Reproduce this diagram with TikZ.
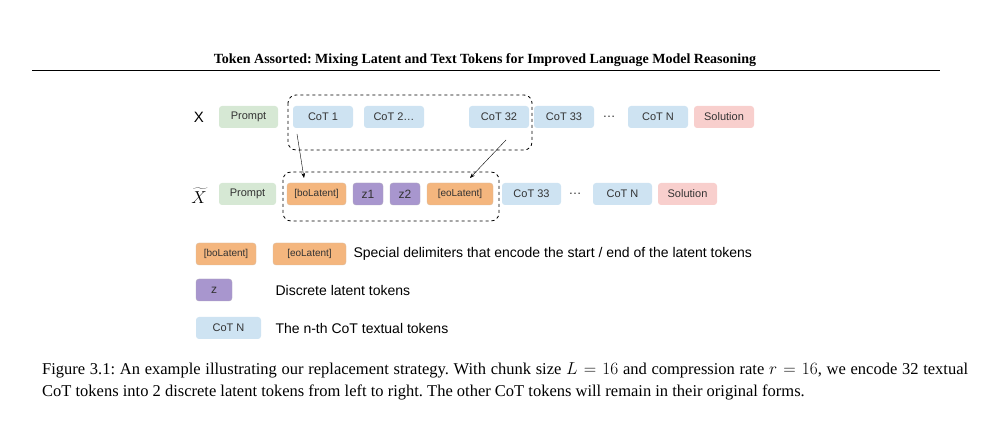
\documentclass[tikz,border=0pt]{standalone}
\usepackage{fontspec}
\setmainfont{Liberation Serif}
\setsansfont{Liberation Sans}
\usetikzlibrary{arrows.meta,positioning}
\definecolor{prgreen}{RGB}{214,232,212}
\definecolor{cotblue}{RGB}{206,227,242}
\definecolor{solred}{RGB}{248,207,205}
\definecolor{latorange}{RGB}{244,182,126}
\definecolor{zpurple}{RGB}{168,150,206}
\tikzset{
  tok/.style={rounded corners=3pt, minimum height=22pt, inner sep=0pt, font=\sffamily\fontsize{11}{13}\selectfont, text=black!80},
  prompt/.style={tok, fill=prgreen},
  cot/.style={tok, fill=cotblue},
  sol/.style={tok, fill=solred},
  lat/.style={tok, fill=latorange, draw=latorange!80!black!60, font=\sffamily\fontsize{10}{12}\selectfont},
  zt/.style={tok, fill=zpurple, draw=zpurple!70!black!60, font=\sffamily\fontsize{12}{14}\selectfont},
  chunk/.style={dashed, rounded corners=8pt, thick},
  legtext/.style={anchor=west, font=\sffamily\fontsize{14}{16}\selectfont}
}
\newcommand{\tokbox}[5]{\node[#1, minimum width=#3-#2] (#4) at ({(#2+#3)/2},\rowy) {#5};}
\begin{document}
\frenchspacing
\begin{tikzpicture}[x=1pt,y=-1pt]
  \useasboundingbox (0,0) rectangle (983,446);

  \node (title) at (485,60) {\bfseries\fontsize{14}{16}\selectfont Token Assorted: Mixing Latent and Text Tokens for Improved Language Model Reasoning};
  \draw[line width=1pt] (32,71) -- (940,71);

  % row X
  \def\rowy{117}
  \node (lx) at (199,\rowy) {\sffamily\fontsize{15}{17}\selectfont X};
  \tokbox{prompt}{219}{278}{xprompt}{Prompt}
  \tokbox{cot}{293}{353}{xcota}{CoT 1}
  \tokbox{cot}{364}{424}{xcotb}{CoT 2\ldots}
  \tokbox{cot}{469}{529}{xcotc}{CoT 32}
  \tokbox{cot}{534}{594}{xcotd}{CoT 33}
  \node[tok] (xdots) at (609,\rowy) {\fontsize{13}{15}\selectfont\ldots};
  \tokbox{cot}{628}{688}{xcotn}{CoT N}
  \tokbox{sol}{694}{754}{xsol}{Solution}
  \draw[chunk] (288,95) rectangle (532,150);

  % row X tilde
  \def\rowy{194}
  \node (lxt) at (199,\rowy+2) {\fontsize{18}{20}\selectfont$\widetilde{X}$};
  \tokbox{prompt}{219}{276}{tprompt}{Prompt}
  \tokbox{lat}{287}{346}{tbo}{[boLatent]}
  \tokbox{zt}{353}{383}{tza}{z1}
  \tokbox{zt}{390}{420}{tzb}{z2}
  \tokbox{lat}{427}{493}{teo}{[eoLatent]}
  \tokbox{cot}{502}{561}{tcotd}{CoT 33}
  \node[tok] (tdots) at (575,\rowy) {\fontsize{13}{15}\selectfont\ldots};
  \tokbox{cot}{593}{652}{tcotn}{CoT N}
  \tokbox{sol}{658}{717}{tsol}{Solution}
  \draw[chunk] (283,172) rectangle (499,221);

  \coordinate (sa) at (297,134);
  \coordinate (ea) at (304,178);
  \coordinate (sb) at (506,140);
  \coordinate (eb) at (470,178);
  \draw[-{Stealth[length=5pt]}] (sa) -- (ea);
  \draw[-{Stealth[length=5pt]}] (sb) -- (eb);

  % legend
  \def\rowy{254}
  \tokbox{lat}{196}{256}{lbo}{[boLatent]}
  \tokbox{lat}{273}{346}{leo}{[eoLatent]}
  \node[legtext] (lta) at (350,\rowy) {Special delimiters that encode the start / end of the latent tokens};
  \def\rowy{290}
  \tokbox{zt}{196}{232}{lz}{z}
  \node[legtext] (ltb) at (272,\rowy) {Discrete latent tokens};
  \def\rowy{328}
  \tokbox{cot}{196}{261}{lcot}{CoT N}
  \node[legtext] (ltc) at (272,\rowy) {The n-th CoT textual tokens};

  \node[anchor=north west, text width=926pt, align=justify, inner sep=0pt, font=\fontsize{16.5}{22}\selectfont] (cap) at (42,362)
    {Figure 3.1: An example illustrating our replacement strategy. With chunk size $L = 16$ and compression rate $r = 16$, we encode 32 textual CoT tokens into 2 discrete latent tokens from left to right. The other CoT tokens will remain in their original forms.};
\end{tikzpicture}
\end{document}
